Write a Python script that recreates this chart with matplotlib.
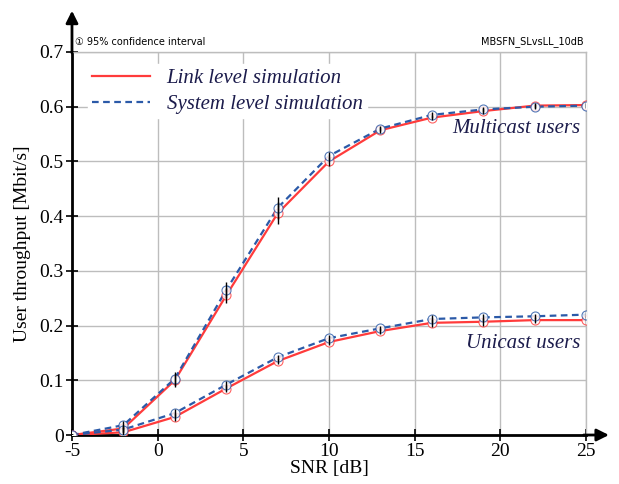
import numpy as np
import matplotlib.pyplot as plt

plt.rcParams['axes.unicode_minus'] = False

# ---- data
snr = [-5, -2, 1, 4, 7, 10, 13, 16, 19, 22, 25]

multi_link = [0.0, 0.012, 0.100, 0.255, 0.405, 0.500, 0.557, 0.580, 0.592, 0.602, 0.603]
multi_sys = [0.0, 0.018, 0.103, 0.265, 0.415, 0.510, 0.560, 0.585, 0.595, 0.600, 0.602]
multi_err = [0.002, 0.007, 0.012, 0.014, 0.020, 0.008, 0.005, 0.005, 0.005, 0.005, 0.005]

uni_link = [0.0, 0.005, 0.033, 0.085, 0.135, 0.170, 0.190, 0.205, 0.207, 0.210, 0.210]
uni_sys = [0.0, 0.010, 0.040, 0.092, 0.142, 0.177, 0.195, 0.212, 0.215, 0.217, 0.220]
uni_err = [0.002, 0.007, 0.007, 0.007, 0.005, 0.005, 0.005, 0.007, 0.007, 0.005, 0.007]

xticks = [-5, 0, 5, 10, 15, 20, 25]
yticks = [0, 0.1, 0.2, 0.3, 0.4, 0.5, 0.6, 0.7]
ytick_labels = ['0', '0.1', '0.2', '0.3', '0.4', '0.5', '0.6', '0.7']

RED = '#ff3b3b'
BLUE = '#2b5aa8'
TXT = '#1c1c4c'
SERIF = ['Liberation Serif', 'DejaVu Serif']

fig = plt.figure(figsize=(6.19, 4.84), dpi=100)
ax = fig.add_axes([0.1163, 0.1012, 0.8304, 0.7914])

def draw(x, y, err, color, ls, label):
    ax.plot(x, y, color=color, ls=ls, lw=1.6, label=label, zorder=3,
            dashes=(3, 2) if ls == '--' else (None, None))
    ax.plot(x, y, ls='none', marker='o', ms=6.5, mfc='white', mec=color,
            mew=0.8, alpha=0.8, zorder=4)
    ax.errorbar(x, y, yerr=err, fmt='none', ecolor='black', elinewidth=1.0,
                capsize=0, zorder=5)

draw(snr, multi_link, multi_err, RED, '-', 'Link level simulation')
draw(snr, multi_sys, multi_err, BLUE, '--', 'System level simulation')
draw(snr, uni_link, uni_err, RED, '-', None)
draw(snr, uni_sys, uni_err, BLUE, '--', None)

ax.set_xlim(-5, 25)
ax.set_ylim(0, 0.7)
ax.set_xticks(xticks)
ax.set_yticks(yticks)
ax.set_yticklabels(ytick_labels)
ax.grid(True, color='#bdbdbd', lw=1.0, zorder=0)
ax.tick_params(direction='inout', length=8, width=1.2, labelsize=14, pad=2)
for lab in ax.get_xticklabels() + ax.get_yticklabels():
    lab.set_fontfamily(SERIF)

for s in ['top', 'right']:
    ax.spines[s].set_color('#bdbdbd')
    ax.spines[s].set_linewidth(1.0)
for s in ['left', 'bottom']:
    ax.spines[s].set_linewidth(2.0)

# axis arrows
ax.annotate('', xy=(0, 1.115), xytext=(0, 0.99), xycoords='axes fraction',
            arrowprops=dict(arrowstyle='-|>', color='black', lw=2.0,
                            mutation_scale=18), annotation_clip=False)
ax.annotate('', xy=(1.05, 0), xytext=(0.99, 0), xycoords='axes fraction',
            arrowprops=dict(arrowstyle='-|>', color='black', lw=2.0,
                            mutation_scale=18), annotation_clip=False)

ax.set_xlabel('SNR [dB]', fontsize=14, family=SERIF, labelpad=0)
ax.set_ylabel('User throughput [Mbit/s]', fontsize=14, family=SERIF, labelpad=6)

leg = ax.legend(loc='upper left', bbox_to_anchor=(0.01, 0.995), frameon=True,
                framealpha=1.0, edgecolor='white', fancybox=False,
                prop={'family': SERIF, 'style': 'italic', 'size': 15},
                handlelength=2.8, labelspacing=0.3, borderpad=0.2)
for t in leg.get_texts():
    t.set_color(TXT)

ax.text(24.7, 0.561, 'Multicast users', ha='right', va='center',
        fontsize=15, style='italic', family=SERIF, color=TXT, zorder=6)
ax.text(24.7, 0.168, 'Unicast users', ha='right', va='center',
        fontsize=15, style='italic', family=SERIF, color=TXT, zorder=6)

ax.text(0.005, 1.012, '\u2460 95% confidence interval', transform=ax.transAxes,
        fontsize=7, ha='left', va='bottom', family='DejaVu Sans')
ax.text(0.995, 1.012, 'MBSFN_SLvsLL_10dB', transform=ax.transAxes,
        fontsize=7, ha='right', va='bottom', family='DejaVu Sans')

fig.savefig('out.png', dpi=100)
